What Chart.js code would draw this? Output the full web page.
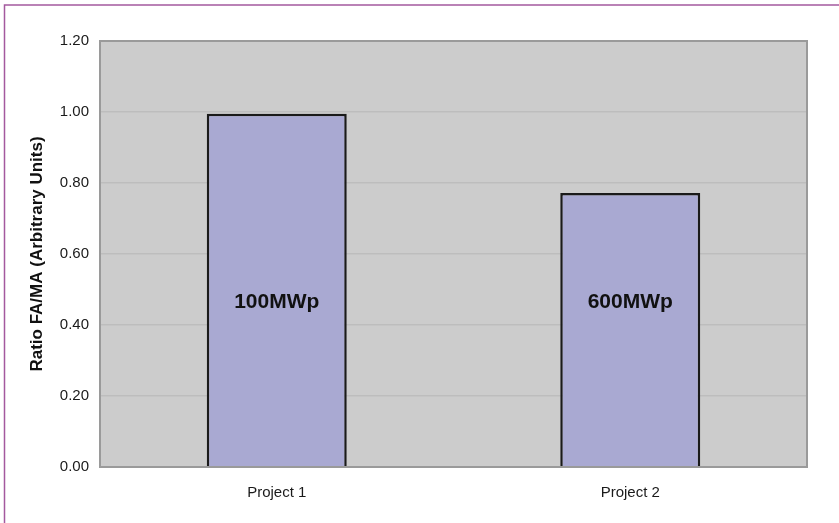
<!DOCTYPE html>
<html>
<head>
<meta charset="utf-8">
<script src="https://cdn.jsdelivr.net/npm/chart.js@4/dist/chart.umd.min.js"></script>
<style>
  html, body { margin: 0; padding: 0; background: #fff; }
  #wrap { width: 839px; height: 523px; }
</style>
</head>
<body>
<div id="wrap"><canvas id="bar-chart" width="839" height="523"></canvas></div>
<script>
const projects = ["Project 1", "Project 2"];
const ratios = [0.995, 0.772];
const barLabels = ["100MWp", "600MWp"];
const labelLevel = 0.465;
const yTicks = [0, 0.2, 0.4, 0.6, 0.8, 1.0, 1.2];

const FONT = "'Liberation Sans', Arial, sans-serif";

// gray plot area + frame, purple page border
const plotBg = {
  id: "plotBg",
  beforeDraw(chart) {
    const ctx = chart.ctx;
    const a = chart.chartArea;
    ctx.save();
    ctx.fillStyle = "#cccccc";
    ctx.fillRect(a.left, a.top, a.right - a.left, a.bottom - a.top);
    ctx.strokeStyle = "#a4599e";
    ctx.lineWidth = 1.5;
    ctx.beginPath();
    ctx.moveTo(839, 5);
    ctx.lineTo(4.5, 5);
    ctx.lineTo(4.5, 523);
    ctx.stroke();
    ctx.restore();
  },
  afterDatasetsDraw(chart) {
    const ctx = chart.ctx;
    const a = chart.chartArea;
    ctx.save();
    ctx.strokeStyle = "#9a9a9a";
    ctx.lineWidth = 2;
    ctx.strokeRect(a.left, a.top, a.right - a.left, a.bottom - a.top);
    // labels inside bars
    const meta = chart.getDatasetMeta(0);
    const y = chart.scales.y.getPixelForValue(labelLevel);
    ctx.fillStyle = "#111";
    ctx.font = "bold 21px " + FONT;
    ctx.textAlign = "center";
    ctx.textBaseline = "middle";
    meta.data.forEach((bar, i) => {
      ctx.fillText(barLabels[i], bar.x, y);
    });
    ctx.restore();
  }
};

new Chart(document.getElementById("bar-chart"), {
  type: "bar",
  data: {
    labels: projects,
    datasets: [{
      data: ratios,
      backgroundColor: "#a9a9d2",
      borderColor: "#1a1a1a",
      borderWidth: 2.5,
      barPercentage: 0.396,
      categoryPercentage: 1.0
    }]
  },
  options: {
    responsive: false,
    animation: false,
    layout: { padding: { top: 41, right: 32, bottom: 4, left: 0 } },
    plugins: {
      legend: { display: false },
      tooltip: { enabled: false }
    },
    scales: {
      x: {
        grid: { display: false, drawTicks: false },
        border: { display: false },
        ticks: { color: "#1a1a1a", font: { family: FONT, size: 15 }, padding: 17, maxRotation: 0 }
      },
      y: {
        min: 0,
        max: 1.2,
        afterBuildTicks(scale) {
          scale.ticks = yTicks.map(v => ({ value: v }));
        },
        afterFit(scale) { scale.width = 100; },
        grid: { color: "#bdbdbd", lineWidth: 1.5, drawTicks: false },
        border: { display: false },
        ticks: {
          color: "#1a1a1a",
          font: { family: FONT, size: 15 },
          padding: 11,
          callback: v => Number(v).toFixed(2)
        },
        title: {
          display: true,
          text: "Ratio FA/MA (Arbitrary Units)",
          color: "#111",
          font: { family: FONT, size: 17, weight: "bold" },
          padding: { top: 27, bottom: 0 }
        }
      }
    }
  },
  plugins: [plotBg]
});
</script>
</body>
</html>
